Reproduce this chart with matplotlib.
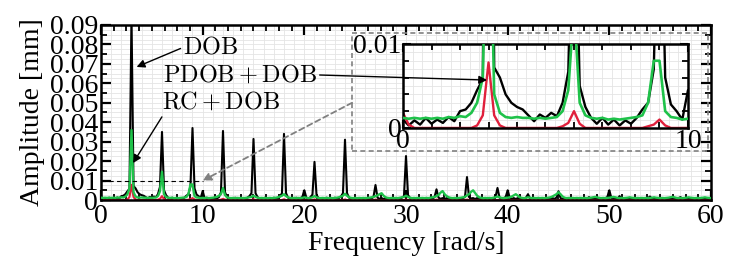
import numpy as np
import matplotlib.pyplot as plt
from matplotlib.ticker import MultipleLocator
from matplotlib.patches import Rectangle

plt.rcParams['font.family'] = ['Liberation Serif', 'DejaVu Serif']
plt.rcParams['mathtext.fontset'] = 'cm'

# amplitude spectra sampled every 0.2 rad/s from 0 to 60 rad/s
# values below are in units of 1e-4 mm, one row = 3 rad/s
freq = np.linspace(0, 60, 301)
AMP_UNIT = 1e-4

dob = [
    10, 3, 9, 4, 12, 5, 10, 6, 13, 8, 20, 22, 30, 45, 58,
    950, 72, 60, 40, 30, 25, 22, 15, 8, 16, 12, 18, 14, 30, 67,
    350, 50, 25, 12, 5, 12, 4, 10, 3, 9, 5, 12, 22, 30, 70,
    370, 60, 28, 20, 10, 45, 8, 12, 6, 10, 6, 10, 8, 15, 40,
    355, 40, 14, 8, 10, 6, 12, 5, 10, 6, 10, 8, 12, 20, 35,
    314, 35, 15, 8, 10, 6, 14, 6, 10, 5, 12, 6, 10, 18, 35,
    340, 35, 12, 6, 10, 5, 12, 6, 10, 15, 50, 12, 6, 15, 28,
    196, 25, 10, 6, 10, 5, 12, 6, 10, 5, 12, 6, 10, 18, 35,
    310, 35, 12, 6, 10, 5, 10, 6, 10, 5, 10, 6, 10, 8, 15,
    77, 12, 6, 10, 5, 10, 6, 10, 5, 10, 6, 10, 6, 12, 20,
    226, 25, 10, 6, 10, 5, 10, 6, 10, 5, 10, 6, 10, 8, 14,
    55, 12, 6, 10, 5, 10, 6, 10, 5, 10, 6, 10, 6, 10, 15,
    118, 15, 8, 10, 5, 10, 6, 10, 5, 10, 6, 10, 6, 10, 15,
    62, 12, 8, 10, 15, 50, 12, 6, 10, 5, 10, 6, 10, 6, 12,
    30, 8, 10, 5, 10, 6, 10, 5, 10, 6, 10, 5, 10, 6, 12,
    45, 10, 6, 10, 5, 10, 6, 10, 5, 10, 6, 10, 5, 10, 6,
    15, 6, 10, 5, 10, 6, 10, 5, 10, 15, 50, 10, 6, 10, 5,
    20, 6, 10, 5, 10, 6, 10, 5, 10, 6, 10, 5, 10, 6, 10,
    18, 6, 10, 5, 10, 6, 10, 5, 10, 6, 10, 5, 10, 6, 10,
    15, 6, 10, 5, 10, 6, 10, 5, 10, 6, 10, 5, 10, 6, 10,
    8,
]

pdob_dob = [
    12, 11, 12, 11, 12, 11, 12, 11, 13, 12, 14, 13, 18, 30, 60,
    360, 40, 18, 13, 12, 13, 12, 12, 11, 12, 11, 12, 13, 20, 45,
    145, 30, 15, 12, 11, 12, 10, 11, 10, 11, 12, 13, 15, 30, 80,
    80, 20, 13, 12, 10, 11, 10, 12, 10, 11, 12, 14, 16, 22, 30,
    62, 25, 14, 11, 10, 11, 10, 11, 10, 11, 10, 11, 12, 14, 16,
    22, 16, 12, 10, 11, 10, 11, 10, 11, 10, 11, 12, 14, 18, 22,
    30, 20, 14, 11, 10, 11, 10, 11, 10, 11, 14, 12, 10, 11, 14,
    20, 14, 11, 10, 11, 10, 11, 10, 11, 10, 11, 12, 14, 18, 22,
    32, 22, 14, 11, 10, 11, 10, 11, 10, 11, 10, 11, 12, 14, 16,
    20, 24, 30, 35, 22, 14, 11, 10, 11, 10, 11, 10, 12, 14, 16,
    22, 16, 12, 10, 11, 10, 11, 10, 11, 10, 11, 10, 12, 14, 16,
    20, 26, 38, 46, 30, 20, 14, 11, 10, 11, 10, 11, 12, 14, 16,
    24, 30, 42, 50, 36, 22, 14, 11, 10, 11, 10, 11, 10, 12, 14,
    18, 14, 11, 10, 11, 12, 14, 18, 24, 30, 22, 14, 11, 10, 11,
    14, 12, 10, 11, 10, 11, 10, 11, 10, 11, 12, 14, 18, 24, 30,
    40, 30, 18, 12, 10, 11, 10, 11, 10, 11, 10, 11, 10, 11, 10,
    11, 12, 14, 16, 14, 11, 10, 11, 10, 11, 12, 14, 16, 14, 11,
    10, 11, 10, 11, 12, 14, 12, 11, 10, 11, 10, 11, 10, 11, 10,
    11, 12, 14, 12, 11, 10, 11, 10, 11, 12, 14, 16, 14, 11, 10,
    11, 10, 11, 12, 14, 12, 11, 10, 11, 10, 11, 12, 14, 12, 11,
    10,
]

rc_dob = [
    18, 4, 0, 0, 0, 0, 0, 0, 0, 0, 0, 0, 0, 3, 15,
    78, 15, 3, 0, 0, 0, 0, 0, 0, 0, 0, 0, 0, 2, 6,
    20, 5, 0, 0, 0, 0, 0, 0, 0, 0, 0, 0, 0, 2, 4,
    10, 3, 0, 0, 0, 0, 0, 0, 0, 0, 0, 0, 0, 0, 2,
    6, 2, 0, 0, 0, 0, 0, 0, 0, 0, 0, 0, 0, 0, 0,
    4, 0, 0, 0, 0, 0, 0, 0, 0, 0, 0, 0, 0, 0, 0,
    4, 0, 0, 0, 0, 0, 0, 0, 0, 0, 0, 0, 0, 0, 0,
    3, 0, 0, 0, 0, 0, 0, 0, 0, 0, 0, 0, 0, 0, 0,
    3, 0, 0, 0, 0, 0, 0, 0, 0, 0, 0, 0, 0, 0, 0,
    2, 0, 0, 0, 0, 0, 0, 0, 0, 0, 0, 0, 0, 0, 0,
    2, 0, 0, 0, 0, 0, 0, 0, 0, 0, 0, 0, 0, 0, 0,
    2, 0, 0, 0, 0, 0, 0, 0, 0, 0, 0, 0, 0, 0, 0,
    2, 0, 0, 0, 0, 0, 0, 0, 0, 0, 0, 0, 0, 0, 0,
    0, 0, 0, 0, 0, 0, 0, 0, 0, 0, 0, 0, 0, 0, 0,
    0, 0, 0, 0, 0, 0, 0, 0, 0, 0, 0, 0, 0, 0, 0,
    0, 0, 0, 0, 0, 0, 0, 0, 0, 0, 0, 0, 0, 0, 0,
    0, 0, 0, 0, 0, 0, 0, 0, 0, 0, 0, 0, 0, 0, 0,
    0, 0, 0, 0, 0, 0, 0, 0, 0, 0, 0, 0, 0, 0, 0,
    0, 0, 0, 0, 0, 0, 0, 0, 0, 0, 0, 0, 0, 0, 0,
    0, 0, 0, 0, 0, 0, 0, 0, 0, 0, 0, 0, 0, 0, 0,
    0,
]

# (values, colour, line width, zorder) -- red under green, both over black
series = [
    (dob, 'k', 1.5, 2.3),
    (rc_dob, '#e0203c', 1.5, 2.4),
    (pdob_dob, '#1fc24a', 1.7, 3),
]

yticks_main = [0, 0.01, 0.02, 0.03, 0.04, 0.05, 0.06, 0.07, 0.08, 0.09]
ytick_labels_main = ['0', '0.01', '0.02', '0.03', '0.04', '0.05',
                     '0.06', '0.07', '0.08', '0.09']
xticks_main = [0, 10, 20, 30, 40, 50, 60]

FS = 20
GRID_C = '#e4e4e4'

fig = plt.figure(figsize=(7.47, 2.74), dpi=100)
ax = fig.add_axes([0.1352, 0.270, 0.8166, 0.639])

for y, c, lw, z in series:
    ax.plot(freq, np.asarray(y) * AMP_UNIT, color=c, lw=lw, zorder=z)

ax.set_xlim(0, 60)
ax.set_ylim(0, 0.09)
ax.set_xticks(xticks_main)
ax.set_yticks(yticks_main)
ax.set_yticklabels(ytick_labels_main)
ax.xaxis.set_minor_locator(MultipleLocator(1.25))
ax.yaxis.set_minor_locator(MultipleLocator(0.005))
for gx in np.arange(1, 60, 1.0):
    ax.axvline(gx, color=GRID_C, lw=0.6, zorder=0)
for gy in np.arange(0.0025, 0.09, 0.0025):
    ax.axhline(gy, color=GRID_C, lw=0.6, zorder=0)

ax.tick_params(which='both', direction='in', top=True, right=True,
               labelsize=FS)
ax.tick_params(which='major', length=7, width=1.6)
ax.tick_params(which='minor', length=4, width=1.3)
ax.tick_params(axis='x', pad=3)
ax.tick_params(axis='y', pad=2)
for s in ax.spines.values():
    s.set_linewidth(1.8)

ax.set_xlabel('Frequency [rad/s]', fontsize=FS)
ax.set_ylabel('Amplitude [mm]', fontsize=FS)
ax.xaxis.set_label_coords(0.5, -0.175)
ax.yaxis.set_label_coords(-0.092, 0.5)

# zoom marker: dashed line at 0.01, dashed frame and arrow to the inset
ax.plot([0, 10], [0.01, 0.01], color='k', lw=0.8, dashes=(4, 3), zorder=4)
ax.add_patch(Rectangle((24.7, 0.0252), 35.0, 0.0607, fill=False,
                       ec='#808080', lw=1.2, ls=(0, (3, 2)), zorder=4))
ax.annotate('', xy=(10, 0.01), xytext=(24.7, 0.05),
            arrowprops=dict(arrowstyle='-|>', color='#808080', lw=1.3,
                            ls=(0, (3, 2)), shrinkA=0, shrinkB=0,
                            mutation_scale=12), zorder=4)

arrow_kw = dict(arrowstyle='-|>', color='k', lw=1.0, shrinkA=0, shrinkB=0,
                mutation_scale=12)
ax.annotate(r'$\mathrm{DOB}$', xy=(3.5, 0.0684), xytext=(8.1, 0.0785),
            ha='left', va='center', fontsize=17.5,
            arrowprops=dict(relpos=(0, 0.5), **arrow_kw), zorder=5)
ax.annotate(r'$\mathrm{RC} + \mathrm{DOB}$', xy=(3.15, 0.019),
            xytext=(6.0, 0.050), ha='left', va='center', fontsize=17.5,
            arrowprops=dict(relpos=(0.02, 0.05), **arrow_kw), zorder=5)

# inset: 0-10 rad/s, 0-0.01 mm
ax_in = fig.add_axes([0.5395, 0.533, 0.3815, 0.3066])
for y, c, lw, z in series:
    ax_in.plot(freq, np.asarray(y) * AMP_UNIT, color=c, lw=lw + 0.2, zorder=z)
ax_in.set_xlim(0, 10)
ax_in.set_ylim(0, 0.01)
ax_in.set_xticks([0, 10])
ax_in.set_xticklabels(['0', '10'])
ax_in.set_yticks([0, 0.01])
ax_in.set_yticklabels(['0', '0.01'])
ax_in.xaxis.set_minor_locator(MultipleLocator(1))
ax_in.yaxis.set_minor_locator(MultipleLocator(0.002))
for gx in np.arange(1 / 3, 10, 1 / 3):
    ax_in.axvline(gx, color=GRID_C, lw=0.6, zorder=0)
for gy in np.arange(0.001, 0.01, 0.001):
    ax_in.axhline(gy, color=GRID_C, lw=0.6, zorder=0)
ax_in.tick_params(which='both', direction='in', top=True, right=True,
                  labelsize=FS, pad=1)
ax_in.tick_params(which='major', length=6, width=1.5)
ax_in.tick_params(which='minor', length=4, width=1.3)
for s in ax_in.spines.values():
    s.set_linewidth(1.8)

ax_in.annotate(r'$\mathrm{PDOB} + \mathrm{DOB}$', xy=(2.95, 0.0057),
               xytext=(6.1, 0.0643), textcoords=ax.transData,
               ha='left', va='center', fontsize=17.5,
               arrowprops=dict(relpos=(1, 0.5), **arrow_kw), zorder=5)

fig.savefig('out.png', dpi=100)
